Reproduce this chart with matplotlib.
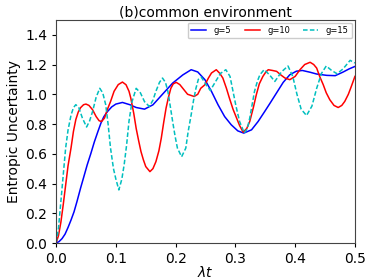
#!/usr/bin/env python

import matplotlib
matplotlib.use("Agg")
import matplotlib.pyplot as plt

# g = 5
t5 = [0.0, 0.005, 0.010, 0.015, 0.020, 0.025, 0.030, 0.035, 0.041, 0.046,
      0.052, 0.058, 0.064, 0.070, 0.075, 0.080, 0.086, 0.093, 0.100, 0.111,
      0.124, 0.134, 0.148, 0.162, 0.178, 0.195, 0.212, 0.226, 0.237, 0.249,
      0.260, 0.271, 0.282, 0.293, 0.304, 0.314, 0.327, 0.338, 0.349, 0.358,
      0.369, 0.380, 0.391, 0.402, 0.412, 0.425, 0.436, 0.453, 0.467, 0.480,
      0.490, 0.500]
u5 = [0.0, 0.01, 0.03, 0.06, 0.105, 0.155, 0.21, 0.28, 0.37, 0.44,
      0.525, 0.60, 0.68, 0.75, 0.806, 0.85, 0.884, 0.915, 0.934, 0.945,
      0.929, 0.911, 0.90, 0.929, 1.0, 1.075, 1.13, 1.165, 1.15, 1.098,
      1.019, 0.929, 0.85, 0.795, 0.754, 0.739, 0.761, 0.817, 0.884, 0.94,
      1.01, 1.08, 1.131, 1.155, 1.16, 1.148, 1.136, 1.127, 1.125, 1.149,
      1.17, 1.187]

# g = 10
t10 = [0.0, 0.004, 0.008, 0.012, 0.016, 0.020, 0.025, 0.029, 0.033, 0.037,
       0.041, 0.046, 0.050, 0.055, 0.061, 0.067, 0.072, 0.076, 0.081, 0.086,
       0.091, 0.097, 0.104, 0.111, 0.117, 0.122, 0.125, 0.130, 0.134, 0.138,
       0.142, 0.146, 0.150, 0.157, 0.162, 0.167, 0.172, 0.176, 0.180, 0.184,
       0.188, 0.192, 0.196, 0.201, 0.207, 0.212, 0.220, 0.231, 0.237, 0.242,
       0.249, 0.255, 0.260, 0.268, 0.274, 0.279, 0.285, 0.290, 0.296, 0.302,
       0.307, 0.313, 0.319, 0.324, 0.330, 0.335, 0.340, 0.346, 0.351, 0.355,
       0.362, 0.369, 0.376, 0.383, 0.391, 0.400, 0.408, 0.416, 0.425, 0.431,
       0.436, 0.441, 0.447, 0.452, 0.458, 0.465, 0.472, 0.478, 0.483, 0.489,
       0.494, 0.500]
u10 = [0.0, 0.05, 0.14, 0.26, 0.39, 0.52, 0.64, 0.75, 0.83, 0.88,
       0.91, 0.93, 0.934, 0.925, 0.896, 0.85, 0.822, 0.817, 0.84, 0.90,
       0.95, 1.02, 1.065, 1.082, 1.064, 1.02, 0.974, 0.87, 0.77, 0.69,
       0.615, 0.56, 0.514, 0.48, 0.50, 0.547, 0.62, 0.705, 0.81, 0.907,
       0.98, 1.04, 1.07, 1.08, 1.065, 1.04, 1.0, 0.985, 1.0, 1.04,
       1.064, 1.11, 1.143, 1.165, 1.14, 1.109, 1.04, 0.974, 0.90, 0.84,
       0.79, 0.745, 0.77, 0.817, 0.91, 0.997, 1.07, 1.12, 1.15, 1.165,
       1.16, 1.154, 1.13, 1.109, 1.098, 1.12, 1.165, 1.20, 1.215, 1.20,
       1.176, 1.12, 1.064, 1.01, 0.963, 0.925, 0.911, 0.925, 0.952, 1.0,
       1.053, 1.12]

# g = 15
t15 = [0.0, 0.004, 0.008, 0.012, 0.016, 0.020, 0.025, 0.029, 0.033, 0.038,
       0.044, 0.051, 0.056, 0.061, 0.067, 0.073, 0.078, 0.083, 0.087, 0.091,
       0.096, 0.100, 0.105, 0.110, 0.114, 0.118, 0.122, 0.127, 0.134, 0.141,
       0.148, 0.156, 0.162, 0.167, 0.173, 0.178, 0.183, 0.187, 0.191, 0.195,
       0.199, 0.203, 0.210, 0.217, 0.221, 0.226, 0.230, 0.234, 0.238, 0.243,
       0.250, 0.258, 0.266, 0.275, 0.284, 0.291, 0.296, 0.301, 0.307, 0.315,
       0.320, 0.324, 0.328, 0.332, 0.337, 0.341, 0.348, 0.357, 0.366, 0.377,
       0.388, 0.396, 0.403, 0.410, 0.419, 0.428, 0.436, 0.444, 0.452, 0.461,
       0.470, 0.480, 0.492, 0.500]
u15 = [0.0, 0.10, 0.28, 0.46, 0.64, 0.76, 0.86, 0.91, 0.93, 0.91,
       0.84, 0.78, 0.82, 0.884, 0.98, 1.04, 1.01, 0.93, 0.80, 0.64,
       0.50, 0.43, 0.357, 0.43, 0.53, 0.66, 0.82, 0.95, 1.04, 1.01,
       0.95, 0.918, 0.96, 1.02, 1.08, 1.109, 1.08, 1.02, 0.92, 0.817,
       0.72, 0.638, 0.58, 0.638, 0.75, 0.862, 0.96, 1.04, 1.10, 1.115,
       1.07, 1.025, 1.08, 1.14, 1.165, 1.12, 1.02, 0.92, 0.817, 0.739,
       0.77, 0.84, 0.93, 1.02, 1.09, 1.131, 1.165, 1.131, 1.086, 1.15,
       1.19, 1.12, 1.0, 0.9, 0.857, 0.92, 1.04, 1.14, 1.19, 1.16,
       1.138, 1.17, 1.228, 1.21]


def main():
    fig = plt.figure(figsize=(3.74, 2.80), dpi=100)
    ax = fig.add_axes([0.150, 0.132, 0.799, 0.797])

    ax.plot(t5, u5, color='blue', lw=1.1, label='g=5')
    ax.plot(t10, u10, color='red', lw=1.1, label='g=10')
    ax.plot(t15, u15, color='c', lw=1.1, ls='--', dashes=(3, 1.5), label='g=15')

    ax.set_xlim(0, 0.5)
    ax.set_ylim(0, 1.5)
    ax.set_xticks([0.0, 0.1, 0.2, 0.3, 0.4, 0.5])
    ax.set_yticks([0.0, 0.2, 0.4, 0.6, 0.8, 1.0, 1.2, 1.4])
    ax.tick_params(labelsize=10, length=3)
    for s in ax.spines.values():
        s.set_color('#444444')

    ax.set_xlabel(r'$\lambda t$', fontsize=10, labelpad=-1)
    ax.set_ylabel('Entropic Uncertainty', fontsize=10, labelpad=3)
    ax.set_title('(b)common environment', fontsize=10, pad=2)

    ax.legend(loc='upper right', ncol=3, fontsize=6, handlelength=1.8,
              columnspacing=1.6, handletextpad=0.9, borderaxespad=0.35,
              framealpha=1)

    fig.savefig('out.png', dpi=100)


if __name__ == '__main__':
    main()
